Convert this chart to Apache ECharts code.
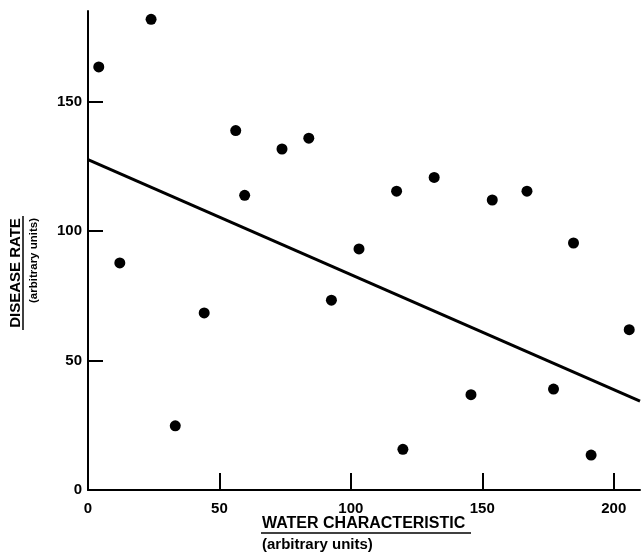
<!DOCTYPE html>
<html>
<head>
<meta charset="utf-8">
<script src="https://cdn.jsdelivr.net/npm/echarts@6/dist/echarts.min.js"></script>
<style>
  html, body { margin: 0; padding: 0; background: #fff; }
</style>
</head>
<body>
<div id="chart1" style="width:641px;height:560px;"></div>
<script>
// water characteristic (x) vs disease rate (y)
var waterValues = [4.1, 24.0, 56.2, 73.8, 84.0, 59.6, 12.1, 117.4, 131.7, 153.8, 167.0,
  103.1, 184.7, 44.2, 33.2, 92.6, 119.8, 145.7, 177.1, 191.4, 205.9];
var diseaseValues = [163.4, 181.8, 138.8, 131.7, 135.9, 113.8, 87.7, 115.4, 120.7, 112.0, 115.4,
  93.1, 95.4, 68.4, 24.8, 73.3, 15.7, 36.8, 39.0, 13.5, 61.9];

// fitted line end points
var fitX = [0, 210];
var fitY = [127.6, 34.3];

var xTicks = [0, 50, 100, 150, 200];
var yTicks = [0, 50, 100, 150];

var ink = '#000';
var fontFam = '"Liberation Sans", Arial, sans-serif';

var chart = echarts.init(document.getElementById('chart1'));

chart.setOption({
  animation: false,
  backgroundColor: '#fff',
  grid: { left: 88, right: 1, top: 11, bottom: 70 },
  xAxis: {
    type: 'value',
    min: 0,
    max: 210,
    splitLine: { show: false },
    axisLine: { lineStyle: { color: ink, width: 2 } },
    axisTick: { inside: true, length: 17, customValues: xTicks, lineStyle: { color: ink, width: 2 } },
    axisLabel: {
      customValues: xTicks,
      margin: 11,
      color: ink,
      fontSize: 15,
      fontWeight: 'bold',
      fontFamily: fontFam
    }
  },
  yAxis: {
    type: 'value',
    min: 0,
    max: 185,
    splitLine: { show: false },
    axisLine: { lineStyle: { color: ink, width: 2 } },
    axisTick: { inside: true, length: 15, customValues: yTicks, lineStyle: { color: ink, width: 2 } },
    axisLabel: {
      customValues: yTicks,
      margin: 6,
      color: ink,
      fontSize: 15,
      fontWeight: 'bold',
      fontFamily: fontFam
    }
  },
  series: [
    {
      type: 'scatter',
      symbolSize: 11,
      itemStyle: { color: ink, opacity: 1 },
      data: waterValues.map(function (x, i) { return [x, diseaseValues[i]]; })
    },
    {
      type: 'line',
      symbol: 'none',
      lineStyle: { color: ink, width: 3 },
      data: fitX.map(function (x, i) { return [x, fitY[i]]; })
    }
  ],
  graphic: [
    // y axis title (rotated), underline and sub title
    {
      type: 'text', x: 16, y: 273, rotation: Math.PI / 2,
      style: { text: 'DISEASE RATE', fill: ink, font: 'bold 15px ' + fontFam, align: 'center', verticalAlign: 'middle' }
    },
    { type: 'line', shape: { x1: 23, y1: 216, x2: 23, y2: 330 }, style: { stroke: ink, lineWidth: 1.5 } },
    {
      type: 'text', x: 34, y: 218, rotation: Math.PI / 2,
      style: { text: '(arbitrary units)', fill: ink, font: 'bold 11.5px ' + fontFam, align: 'right', verticalAlign: 'middle' }
    },
    // x axis title, underline and sub title
    {
      type: 'text', x: 262, y: 516,
      style: { text: 'WATER CHARACTERISTIC', fill: ink, font: 'bold 16px ' + fontFam, align: 'left', verticalAlign: 'top' }
    },
    { type: 'line', shape: { x1: 261, y1: 533, x2: 471, y2: 533 }, style: { stroke: ink, lineWidth: 1.5 } },
    {
      type: 'text', x: 262, y: 537,
      style: { text: '(arbitrary units)', fill: ink, font: 'bold 15px ' + fontFam, align: 'left', verticalAlign: 'top' }
    }
  ]
});
</script>
</body>
</html>
